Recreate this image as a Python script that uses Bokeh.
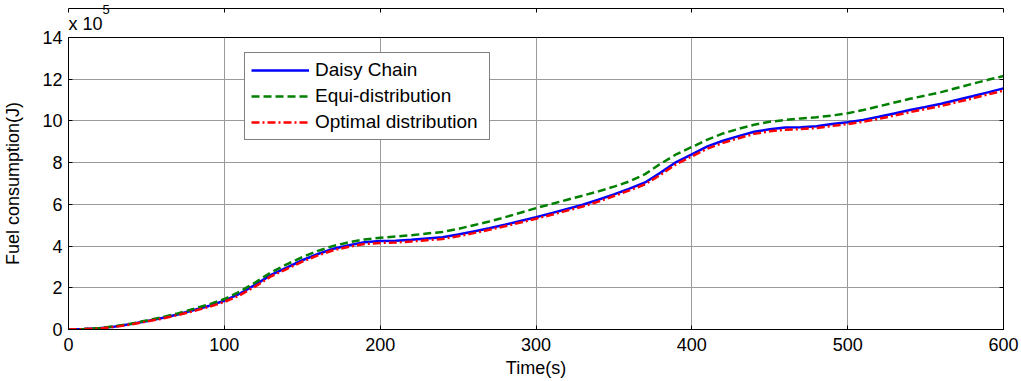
from bokeh.plotting import figure
from bokeh.models import Range1d, LinearAxis, FixedTicker, CustomJSTickFormatter, Title
from bokeh.embed import file_html
from bokeh.resources import INLINE

# Time (s)
time_s = list(range(0, 601, 10))

# Fuel consumption in units of 1e5 J
daisy_chain = [0.00, 0.02, 0.06, 0.14, 0.26, 0.40, 0.55, 0.72, 0.92, 1.13,
               1.38, 1.72, 2.15, 2.62, 2.97, 3.32, 3.62, 3.87, 4.04, 4.18,
               4.24, 4.26, 4.30, 4.36, 4.42, 4.55, 4.70, 4.85, 5.02, 5.20,
               5.38, 5.58, 5.78, 5.98, 6.22, 6.48, 6.75, 7.05, 7.52, 8.03,
               8.40, 8.78, 9.05, 9.27, 9.48, 9.60, 9.68, 9.70, 9.75, 9.85,
               9.94, 10.05, 10.20, 10.36, 10.52, 10.67, 10.82, 11.00, 11.18, 11.37,
               11.56]
equi_distribution = [0.00, 0.02, 0.07, 0.16, 0.28, 0.43, 0.59, 0.77, 0.98, 1.20,
                     1.46, 1.82, 2.26, 2.74, 3.12, 3.47, 3.77, 4.01, 4.18, 4.32,
                     4.40, 4.46, 4.52, 4.60, 4.68, 4.82, 5.00, 5.18, 5.38, 5.60,
                     5.82, 6.02, 6.22, 6.42, 6.62, 6.85, 7.10, 7.45, 7.95, 8.40,
                     8.75, 9.10, 9.40, 9.62, 9.82, 9.96, 10.05, 10.12, 10.18, 10.26,
                     10.37, 10.52, 10.70, 10.88, 11.06, 11.22, 11.38, 11.58, 11.78, 11.97,
                     12.15]
optimal_distribution = [0.00, 0.02, 0.05, 0.13, 0.24, 0.38, 0.52, 0.69, 0.88, 1.08,
                        1.32, 1.65, 2.07, 2.55, 2.90, 3.25, 3.55, 3.80, 3.97, 4.10,
                        4.15, 4.17, 4.22, 4.28, 4.34, 4.47, 4.62, 4.78, 4.95, 5.13,
                        5.31, 5.50, 5.70, 5.90, 6.13, 6.40, 6.67, 6.96, 7.42, 7.93,
                        8.30, 8.67, 8.95, 9.17, 9.38, 9.50, 9.58, 9.61, 9.66, 9.76,
                        9.85, 9.96, 10.10, 10.26, 10.42, 10.57, 10.72, 10.90, 11.08, 11.27,
                        11.45]

x_ticks = [0, 100, 200, 300, 400, 500, 600]
y_ticks = [0, 2, 4, 6, 8, 10, 12, 14]

FONT = "Liberation Sans"

p = figure(width=1021, height=381,
           x_range=Range1d(0, 600), y_range=Range1d(0, 14),
           output_backend="svg", toolbar_location=None,
           min_border_left=66, min_border_right=18,
           min_border_top=37, min_border_bottom=52,
           title="5")
p.background_fill_color = "white"
p.border_fill_color = "white"
p.outline_line_color = "black"
p.outline_line_width = 1

# exponent (outermost title, pulled down next to "x 10")
p.title.align = "left"
p.title.offset = 34
p.title.text_font = FONT
p.title.text_font_size = "13px"
p.title.text_font_style = "normal"
p.title.text_color = "black"
p.title.standoff = -11

# scale factor text
p.add_layout(Title(text="x 10", align="left", text_font=FONT,
                   text_font_size="18px", text_font_style="normal",
                   text_color="black", standoff=7), "above")

for ax in (p.xaxis[0], p.yaxis[0]):
    ax.axis_line_color = "black"
    ax.major_tick_line_color = "black"
    ax.major_tick_in = 4
    ax.major_tick_out = 0
    ax.minor_tick_line_color = None
    ax.major_label_text_font = FONT
    ax.major_label_text_font_size = "18px"
    ax.major_label_text_color = "black"
    ax.axis_label_text_font = FONT
    ax.axis_label_text_font_size = "18px"
    ax.axis_label_text_font_style = "normal"
    ax.axis_label_text_color = "black"

p.xaxis[0].ticker = FixedTicker(ticks=x_ticks)
p.yaxis[0].ticker = FixedTicker(ticks=y_ticks)
p.xaxis[0].major_label_standoff = 8
p.yaxis[0].major_label_standoff = 6
p.xaxis[0].axis_label = "Time(s)"
p.xaxis[0].axis_label_standoff = 4
p.yaxis[0].axis_label = "Fuel consumption(J)"
p.yaxis[0].axis_label_standoff = 16

# mirrored axes (top/right) with inward ticks, no labels
top_ax = LinearAxis(ticker=FixedTicker(ticks=x_ticks),
                    formatter=CustomJSTickFormatter(code="return ''"))
right_ax = LinearAxis(ticker=FixedTicker(ticks=y_ticks),
                      formatter=CustomJSTickFormatter(code="return ''"))
for ax in (top_ax, right_ax):
    ax.major_label_standoff = 0
    ax.major_tick_in = 4
    ax.major_tick_out = 0
    ax.minor_tick_line_color = None
    ax.axis_line_color = "black"
    ax.major_tick_line_color = "black"
p.add_layout(top_ax, "above")
p.add_layout(right_ax, "right")

p.xgrid.ticker = FixedTicker(ticks=x_ticks)
p.ygrid.ticker = FixedTicker(ticks=y_ticks)
p.grid.grid_line_color = "#9a9a9a"
p.grid.grid_line_width = 1

p.line(time_s, daisy_chain, line_color="#0000ff", line_width=2.5,
       legend_label="Daisy Chain")
p.line(time_s, equi_distribution, line_color="#008000", line_width=2.5,
       line_dash="8 4", legend_label="Equi-distribution")
p.line(time_s, optimal_distribution, line_color="#ff0000", line_width=2.5,
       line_dash="8 3 2 3", legend_label="Optimal distribution")

lg = p.legend[0]
lg.location = (176, 189)
lg.margin = 0
lg.padding = 6
lg.spacing = 4
lg.glyph_width = 58
lg.glyph_height = 20
lg.label_height = 20
lg.label_width = 168
lg.label_standoff = 6
lg.label_text_font = FONT
lg.label_text_font_size = "19px"
lg.label_text_color = "black"
lg.border_line_color = "black"
lg.border_line_width = 1
lg.background_fill_color = "white"
lg.background_fill_alpha = 1.0

open("out.html", "w").write(file_html(p, INLINE))
